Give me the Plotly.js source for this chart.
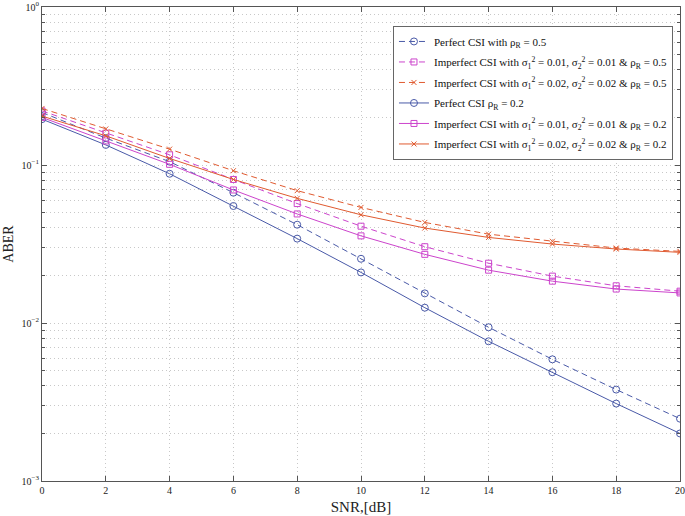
<!DOCTYPE html>
<html>
<head>
<meta charset="utf-8">
<script src="https://cdn.plot.ly/plotly-3.0.1.min.js"></script>
<style>
  body { margin: 0; background: #fff; }
  #plot { width: 685px; height: 516px; }
</style>
</head>
<body>
<div id="plot"></div>
<script>
// SNR in dB
var snr = [0, 2, 4, 6, 8, 10, 12, 14, 16, 18, 20];

// rho_R = 0.5 (dashed)
var perfect05 = [0.215, 0.148, 0.105, 0.0668, 0.0419, 0.0255, 0.0154, 0.0094, 0.00589, 0.00379, 0.00248];
var imperfect01_05 = [0.220, 0.159, 0.116, 0.081, 0.057, 0.041, 0.0304, 0.0239, 0.0198, 0.0172, 0.0159];
var imperfect02_05 = [0.228, 0.169, 0.126, 0.092, 0.0688, 0.0539, 0.0433, 0.0365, 0.0329, 0.0298, 0.0284];

// rho_R = 0.2 (solid)
var perfect02 = [0.195, 0.134, 0.088, 0.055, 0.0342, 0.0209, 0.0125, 0.00766, 0.00488, 0.00309, 0.0020];
var imperfect01_02 = [0.200, 0.142, 0.101, 0.0695, 0.049, 0.0356, 0.0272, 0.0216, 0.0184, 0.0164, 0.0155];
var imperfect02_02 = [0.204, 0.153, 0.110, 0.081, 0.0615, 0.0484, 0.0399, 0.0348, 0.0316, 0.0294, 0.0280];

var yTickVals = [1, 0.1, 0.01, 0.001];
var yTickText = ['10<sup>0</sup>', '10<sup>\u22121</sup>', '10<sup>\u22122</sup>', '10<sup>\u22123</sup>'];
var yMinorVals = [
  0.002, 0.003, 0.004, 0.005, 0.006, 0.007, 0.008, 0.009,
  0.02, 0.03, 0.04, 0.05, 0.06, 0.07, 0.08, 0.09,
  0.2, 0.3, 0.4, 0.5, 0.6, 0.7, 0.8, 0.9
];
var xTickVals = [0, 2, 4, 6, 8, 10, 12, 14, 16, 18, 20];

var names = [
  'Perfect CSI with \u03C1<sub>R</sub> = 0.5',
  'Imperfect CSI with \u03C3<sub>1</sub><sup>2</sup> = 0.01, \u03C3<sub>2</sub><sup>2</sup> = 0.01 &amp; \u03C1<sub>R</sub> = 0.5',
  'Imperfect CSI with \u03C3<sub>1</sub><sup>2</sup> = 0.02, \u03C3<sub>2</sub><sup>2</sup> = 0.02 &amp; \u03C1<sub>R</sub> = 0.5',
  'Perfect CSI \u03C1<sub>R</sub> = 0.2',
  'Imperfect CSI with \u03C3<sub>1</sub><sup>2</sup> = 0.01, \u03C3<sub>2</sub><sup>2</sup> = 0.01 &amp; \u03C1<sub>R</sub> = 0.2',
  'Imperfect CSI with \u03C3<sub>1</sub><sup>2</sup> = 0.02, \u03C3<sub>2</sub><sup>2</sup> = 0.02 &amp; \u03C1<sub>R</sub> = 0.2'
];

var blue = '#4a5aa8';
var magenta = '#cc44cc';
var orange = '#e05a30';

function makeTrace(y, name, color, dash, symbol, size, group) {
  return {
    x: snr,
    y: y,
    type: 'scatter',
    mode: 'lines+markers',
    name: name,
    legendgroup: group,
    line: { color: color, width: 1, dash: dash },
    marker: { symbol: symbol, size: size, color: color, line: { color: color, width: 1 } }
  };
}

var traces = [
  makeTrace(perfect05, names[0], blue, '6px,4px', 'circle-open', 7, 'g1'),
  makeTrace(imperfect01_05, names[1], magenta, '6px,4px', 'square-open', 6, 'g2'),
  makeTrace(imperfect02_05, names[2], orange, '6px,4px', 'x-thin-open', 5, 'g3'),
  makeTrace(perfect02, names[3], blue, 'solid', 'circle-open', 7, 'g4'),
  makeTrace(imperfect01_02, names[4], magenta, 'solid', 'square-open', 6, 'g5'),
  makeTrace(imperfect02_02, names[5], orange, 'solid', 'x-thin-open', 5, 'g6')
];

var serif = 'Liberation Serif, Times New Roman, serif';

var layout = {
  width: 685,
  height: 516,
  paper_bgcolor: '#ffffff',
  plot_bgcolor: '#ffffff',
  font: { family: serif, size: 11, color: '#222' },
  margin: { t: 7, l: 42, r: 5, b: 35 },
  showlegend: true,
  legend: {
    x: 0.989,
    y: 0.96,
    xanchor: 'right',
    yanchor: 'top',
    bgcolor: '#ffffff',
    bordercolor: '#666',
    borderwidth: 1,
    itemwidth: 30,
    font: { family: serif, size: 11, color: '#111' },
    tracegroupgap: 1.5
  },
  xaxis: {
    range: [0, 20],
    tickvals: xTickVals,
    ticks: 'inside',
    ticklen: 5,
    tickcolor: '#555',
    showline: true,
    linecolor: '#555',
    linewidth: 1,
    mirror: 'ticks',
    showgrid: true,
    gridcolor: '#c8c8c8',
    griddash: '1px,3px',
    zeroline: false,
    tickfont: { family: serif, size: 10 },
    title: { text: 'SNR,[dB]', font: { family: serif, size: 15 }, standoff: 6 }
  },
  yaxis: {
    type: 'log',
    range: [-3, 0],
    tickvals: yTickVals,
    ticktext: yTickText,
    ticks: 'inside',
    ticklen: 5,
    tickcolor: '#555',
    showline: true,
    linecolor: '#555',
    linewidth: 1,
    mirror: 'ticks',
    showgrid: true,
    gridcolor: '#c8c8c8',
    griddash: '1px,3px',
    zeroline: false,
    tickfont: { family: serif, size: 10 },
    minor: {
      tickmode: 'array',
      tickvals: yMinorVals,
      showgrid: true,
      gridcolor: '#c8c8c8',
      griddash: '1px,3px',
      ticks: 'inside',
      ticklen: 3,
      tickcolor: '#555'
    },
    title: { text: 'ABER', font: { family: serif, size: 14 }, standoff: 4 }
  }
};

Plotly.newPlot('plot', traces, layout, { displayModeBar: false });
</script>
</body>
</html>
